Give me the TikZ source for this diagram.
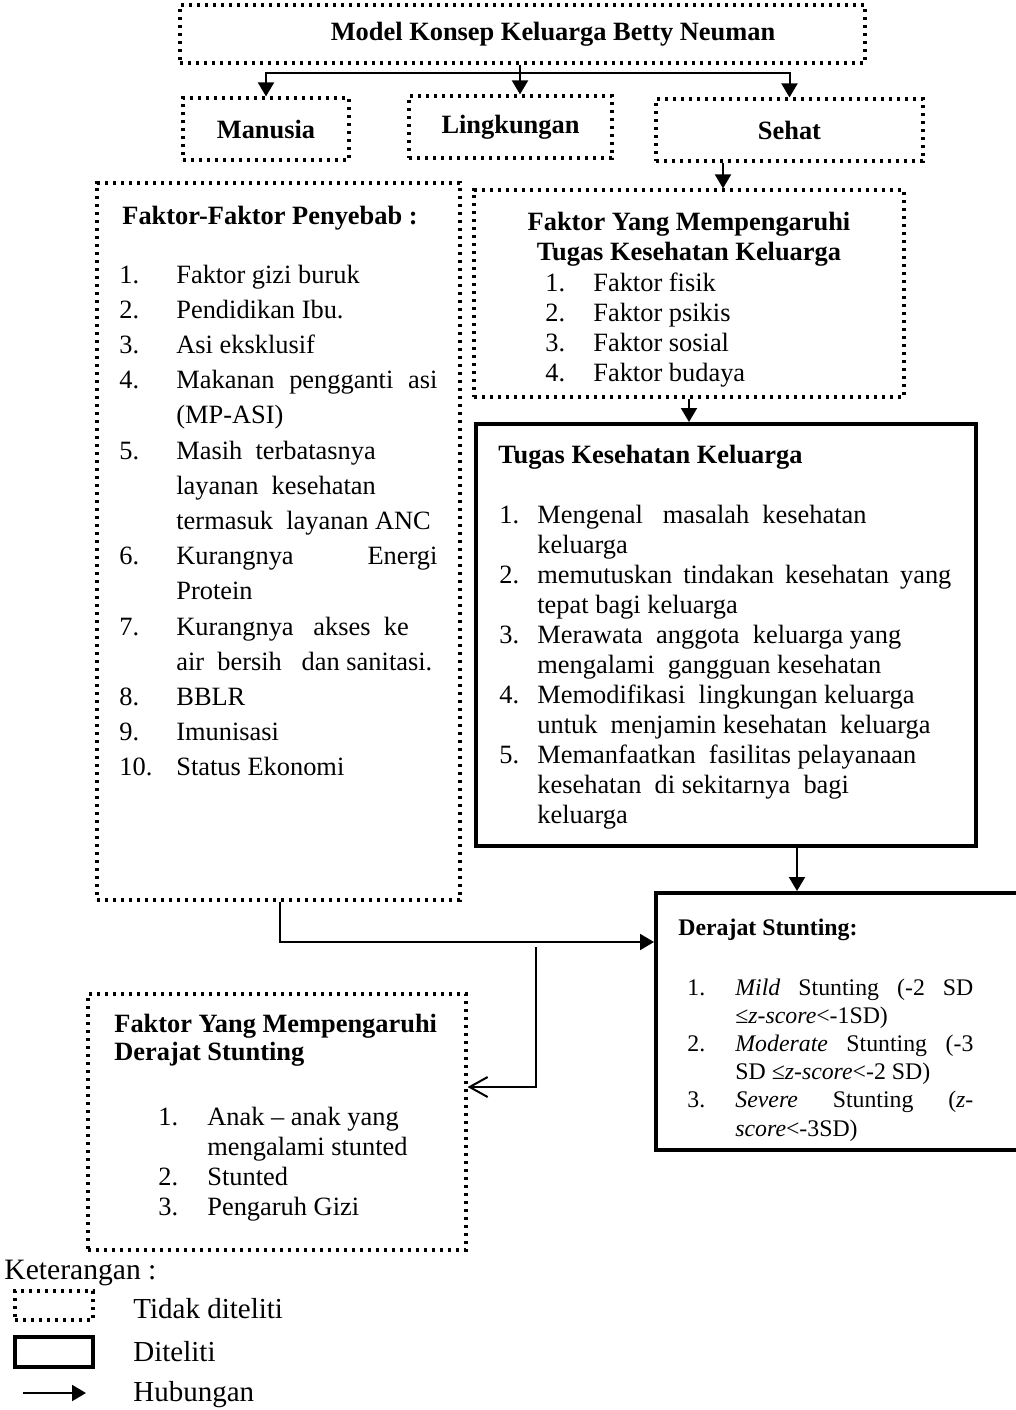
\documentclass[tikz,border=0pt]{standalone}
\usepackage{fontspec}
\setmainfont{Liberation Serif}
\usetikzlibrary{arrows.meta, fit}
\newcommand{\jl}[2]{\makebox[#1][s]{#2}}
\tikzset{
    dotbox/.style={draw, line width=1.6pt, dash pattern=on 1.6pt off 2.4pt, inner sep=0pt},
    solidbox/.style={draw, line width=2pt, inner sep=0pt},
    conn/.style={line width=1pt},
    arr/.style={conn, -{Triangle[length=7pt, width=8pt]}},
    openarr/.style={conn, -{Straight Barb[length=9pt, width=10pt]}},
    boxlabel/.style={font=\fontsize{13.2}{15}\selectfont\bfseries},
    txt/.style={inner sep=0pt, anchor=base west, font=\fontsize{13.2}{15}\selectfont}
}

\begin{document}
\begin{tikzpicture}[x=0.5pt, y=-0.5pt]
    \useasboundingbox (0,0) rectangle (1016,1410);

    % ---------- Top: model and its three concepts ----------
    \node[dotbox, fit={(180,5) (865,63)}] (model) {};
    \node[boxlabel] (modeltitle) at (553,34) {Model Konsep Keluarga Betty Neuman};
    \node[dotbox, fit={(183,98) (349,160)}] (manusia) {};
    \node[dotbox, fit={(409,96) (612,158)}] (lingkungan) {};
    \node[dotbox, fit={(656,99) (923,161)}] (sehat) {};
    \node[boxlabel] (manusialabel) at (manusia.center) {Manusia};
    \node[boxlabel] (lingkunganlabel) at (lingkungan.center) {Lingkungan};
    \node[boxlabel] (sehatlabel) at (sehat.center) {Sehat};

    \coordinate (split) at (520,73);
    \draw[conn] (model.south -| split) -- (split);
    \draw[arr] (split) -| (manusia.north);
    \draw[arr] (split) -- (lingkungan.north -| split);
    \draw[arr] (split) -| (sehat.north);

    % ---------- Right: Faktor Yang Mempengaruhi Tugas ----------
    \node[dotbox, fit={(474,190) (904,397)}] (faktortugas) {};
    \coordinate (sehatdrop) at (723,0);
    \draw[arr] (sehat.south -| sehatdrop) -- (faktortugas.north -| sehatdrop);

    \node[boxlabel, anchor=base, inner sep=0pt] (faktortugastitle) at (689,230)
        {\begin{tabular}[t]{@{}c@{}}Faktor Yang Mempengaruhi\\Tugas Kesehatan Keluarga\end{tabular}};
    \node[txt] (faktortugaslist) at (545,291) {\begin{tabular}[t]{@{}p{24pt}@{}l@{}}
        1. & Faktor fisik\\
        2. & Faktor psikis\\
        3. & Faktor sosial\\
        4. & Faktor budaya
    \end{tabular}};

    % ---------- Right: Tugas Kesehatan Keluarga ----------
    \node[solidbox, fit={(476,424) (976,846)}] (tugas) {};
    \draw[arr] (faktortugas.south) -- (tugas.north -| faktortugas.south);

    \node[txt, boxlabel] (tugastitle) at (498,463) {Tugas Kesehatan Keluarga};
    \node[txt] (tugaslist) at (499,523) {\begin{tabular}[t]{@{}p{19pt}@{}l@{}}
        1. & Mengenal\ \ \ masalah\ \ kesehatan\\
           & keluarga\\
        2. & \jl{207pt}{memutuskan tindakan kesehatan yang}\\
           & tepat bagi keluarga\\
        3. & Merawata\ \ anggota\ \ keluarga yang\\
           & mengalami\ \ gangguan kesehatan\\
        4. & Memodifikasi\ \ lingkungan keluarga\\
           & untuk\ \ menjamin kesehatan\ \ keluarga\\
        5. & Memanfaatkan\ \ fasilitas pelayanaan\\
           & kesehatan\ \ di sekitarnya\ \ bagi\\
           & keluarga
    \end{tabular}};

    % ---------- Right: Derajat Stunting ----------
    \node[solidbox, fit={(656,893) (1024,1150)}] (derajat) {};
    \coordinate (tugasdrop) at (797,0);
    \draw[arr] (tugas.south -| tugasdrop) -- (derajat.north -| tugasdrop);

    \node[txt, font=\fontsize{11.9}{14.1}\selectfont\bfseries] (derajattitle) at (678,935) {Derajat Stunting:};
    \node[txt, font=\fontsize{11.9}{14.1}\selectfont] (derajatlist) at (687,995) {\begin{tabular}[t]{@{}p{24pt}@{}l@{}}
        1. & \jl{119pt}{\textit{Mild} Stunting (-2 SD}\\
           & ≤\textit{z-score}<-1SD)\\
        2. & \jl{119pt}{\textit{Moderate} Stunting (-3}\\
           & SD ≤\textit{z-score}<-2 SD)\\
        3. & \jl{119pt}{\textit{Severe} Stunting (\textit{z-}}\\
           & \textit{score}<-3SD)
    \end{tabular}};

    % ---------- Left: Faktor-Faktor Penyebab ----------
    \node[dotbox, fit={(97,183) (460,900)}] (penyebab) {};
    \node[txt, boxlabel] (penyebabtitle) at (122,224) {Faktor-Faktor Penyebab :};
    \node[txt, font=\fontsize{13.2}{17.6}\selectfont] (penyebablist) at (119,283) {\begin{tabular}[t]{@{}p{28.5pt}@{}l@{}}
        1.  & Faktor gizi buruk\\
        2.  & Pendidikan Ibu.\\
        3.  & Asi eksklusif\\
        4.  & \jl{130.5pt}{Makanan pengganti asi}\\
            & (MP-ASI)\\
        5.  & Masih\ \ terbatasnya\\
            & layanan\ \ kesehatan\\
            & termasuk\ \ layanan ANC\\
        6.  & \jl{130.5pt}{Kurangnya\hfill Energi}\\
            & Protein\\
        7.  & Kurangnya\ \ \ akses\ \ ke\\
            & air\ \ bersih\ \ \ dan sanitasi.\\
        8.  & BBLR\\
        9.  & Imunisasi\\
        10. & Status Ekonomi
    \end{tabular}};

    % ---------- Bottom left: Faktor Yang Mempengaruhi Derajat ----------
    \node[dotbox, fit={(88,994) (466,1250)}] (faktorderajat) {};
    \node[txt, font=\fontsize{13.2}{14}\selectfont\bfseries] (faktorderajattitle) at (114,1032)
        {\begin{tabular}[t]{@{}l@{}}Faktor Yang Mempengaruhi\\Derajat Stunting\end{tabular}};
    \node[txt] (faktorderajatlist) at (158,1125) {\begin{tabular}[t]{@{}p{24.5pt}@{}l@{}}
        1. & Anak -- anak yang\\
           & mengalami stunted\\
        2. & Stunted\\
        3. & Pengaruh Gizi
    \end{tabular}};

    % ---------- Connectors to Derajat ----------
    \coordinate (penyebabjoint) at (280,942);
    \draw[arr] (penyebab.south -| penyebabjoint) |- (derajat.west |- penyebabjoint);
    \coordinate (branch) at (536,947);
    \coordinate (branchturn) at (536,1087);
    \draw[openarr] (branch) -- (branchturn) -- (faktorderajat.east |- branchturn);

    % ---------- Legend ----------
    \node[txt, font=\fontsize{14.8}{16}\selectfont] (keterangan) at (4,1279) {Keterangan :};
    \node[dotbox, fit={(15,1291) (93,1320)}] (legenddot) {};
    \node[solidbox, fit={(15,1337) (93,1367)}] (legendsolid) {};
    \coordinate (legendfrom) at (23,1393);
    \coordinate (legendto) at (86,1393);
    \draw[arr] (legendfrom) -- (legendto);
    \node[txt, font=\fontsize{14.5}{16}\selectfont] (tidak) at (133,1318) {Tidak diteliti};
    \node[txt, font=\fontsize{14.5}{16}\selectfont] (diteliti) at (133,1361) {Diteliti};
    \node[txt, font=\fontsize{14.5}{16}\selectfont] (hubungan) at (133,1401) {Hubungan};
\end{tikzpicture}
\end{document}
